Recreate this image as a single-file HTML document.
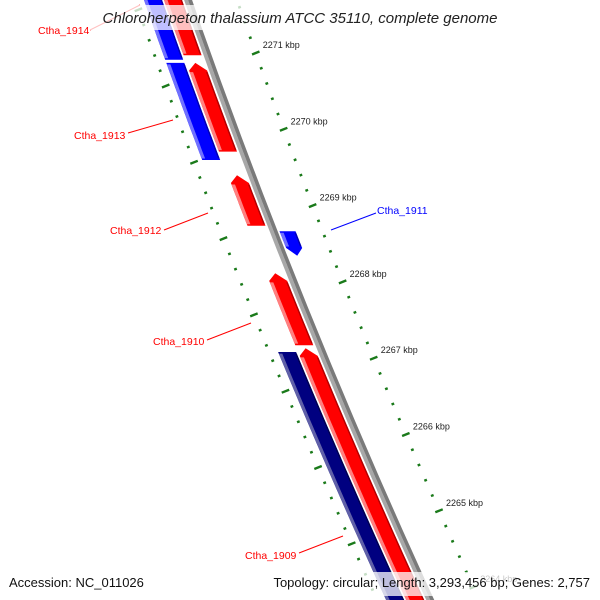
<!DOCTYPE html>
<html><head><meta charset="utf-8"><style>
html,body{margin:0;padding:0;background:#fff;width:600px;height:600px;overflow:hidden}
svg{display:block;font-family:"Liberation Sans",sans-serif;overflow:hidden}
</style></head><body>
<svg id="map" width="600" height="600" viewBox="0 0 600 600" overflow="hidden" xmlns="http://www.w3.org/2000/svg">
<g id="ticks"></g>
<g id="backbone"></g>
<g id="genes"></g>
<g id="labels"></g>
<rect x="88" y="5" width="424" height="25" fill="#fff" opacity="0.75"/>
<text x="300" y="23" text-anchor="middle" font-size="15" font-style="italic" fill="#222">Chloroherpeton thalassium ATCC 35110, complete genome</text>
<rect x="4" y="572" width="150" height="24" fill="#fff" opacity="0.75"/>
<rect x="255" y="572" width="341" height="24" fill="#fff" opacity="0.75"/>
<text x="9" y="587" font-size="13" fill="#111">Accession: NC_011026</text>
<text x="590" y="587" font-size="13" fill="#111" text-anchor="end">Topology: circular; Length: 3,293,456 bp; Genes: 2,757</text>
</svg>
<script>
const NS="http://www.w3.org/2000/svg";
const majorTicks=[2264,2265,2266,2267,2268,2269,2270,2271,2272];
const geneNames=["Ctha_1914","Ctha_1914b","Ctha_1913","Ctha_1913b","Ctha_1912","Ctha_1911","Ctha_1910","Ctha_1909","Ctha_1909b"];
const geneStart=[2271.18,2271.12,2269.92,2269.81,2268.95,2268.66,2267.39,2263.8,2263.8];
const geneEnd=[2272.2,2272.2,2270.98,2271.08,2269.51,2268.88,2268.23,2267.25,2267.30];
const geneTrack=["red","blue","red","blue","red","right","red","red","navy"];
const geneArrow=["none","none","top","none","top","bottom","top","top","none"];
const labelNames=["Ctha_1914","Ctha_1913","Ctha_1912","Ctha_1911","Ctha_1910","Ctha_1909"];

function xb(y){return 188+0.349*y+9.1e-5*y*y;}
function yOuter(k){return 53+(2271-k)*76.3;}
function yMid(k){return 69+(2271-k)*76.5;}
function P(k,r){const y=yMid(k);return [xb(y)+r,y];}
function mk(tag,attrs,parent){const e=document.createElementNS(NS,tag);for(const a in attrs)e.setAttribute(a,attrs[a]);parent.appendChild(e);return e;}

const tg=document.getElementById('ticks');
const n=[0.93,-0.37];
function tick(x,y,len,name){
  const l=mk('line',{x1:x-n[0]*len,y1:y-n[1]*len,x2:x+n[0]*len,y2:y+n[1]*len,stroke:'#1a7a1a','stroke-width':2.4},tg);
  
  
}
for(let i=0;i<majorTicks.length;i++){
  const k=majorTicks[i];
  for(let j=0;j<5;j++){
    const kk=k-j*0.2;
    const yo=yOuter(kk), yi=yo+33;
    const len=j===0?4:1.4;
    if(yo>-5&&yo<605) tick(xb(yo)+49,yo,len,j===0?'outer-major-tick':'outer-minor-tick');
    if(yi>-5&&yi<605) tick(xb(yi)-53,yi,len,j===0?'inner-major-tick':'inner-minor-tick');
  }
  const yo=yOuter(k);
  if(yo>0&&yo<600){
    const t=mk('text',{x:xb(yo)+56,y:yo-5,'font-size':9,fill:'#222'},tg);
    t.textContent=k+' kbp';
    
    
  }
}

const bg=document.getElementById('backbone');
function band(k1,k2,r1,r2,fill,parent,name,arrow){
  const pts=[];const steps=12;const hl=0.1;
  let a=k1,b=k2;
  for(let s=0;s<=steps;s++){const k=a+(b-a)*s/steps;pts.push(P(k,r1));}
  if(arrow==='top'){pts.push(P(b+hl,(r1+r2)/2));}
  for(let s=steps;s>=0;s--){const k=a+(b-a)*s/steps;pts.push(P(k,r2));}
  if(arrow==='bottom'){pts.push(P(a-hl,(r1+r2)/2));}
  const p=mk('polygon',{points:pts.map(q=>q[0].toFixed(1)+','+q[1].toFixed(1)).join(' '),fill:fill},parent);
  
  
  return p;
}
band(2263.5,2272.3,-4,0,'#a8a8a8',bg,'backbone-light');
band(2263.5,2272.3,0,4,'#7a7a7a',bg,'backbone-dark');

const gg=document.getElementById('genes');
const trackR={red:[-24,-6],blue:[-44,-26],navy:[-44,-26],right:[6,22]};
const colors={red:['#ff8080','#ff0000','#b00000'],blue:['#7070ff','#0000ff','#0000b0'],navy:['#6060a8','#000080','#000050'],right:['#7070ff','#0000ff','#0000b0']};
for(let i=0;i<geneNames.length;i++){
  const r=trackR[geneTrack[i]],c=colors[geneTrack[i]];
  const a=Math.min(geneStart[i],geneEnd[i]),b=Math.max(geneStart[i],geneEnd[i]);
  const ar=geneArrow[i];
  const g=mk('g',{},gg);
  
  
  band(a,b,r[0],r[1],c[1],g,'gene-body',ar);
  band(a+0.02,b-0.02,r[0],r[0]+3.5,c[0],g,'gene-highlight','none');
  band(a+0.02,b-0.02,r[1]-1.5,r[1],c[2],g,'gene-shadow','none');
}

const lg=document.getElementById('labels');
const labelX=[38,74,110,377,153,245];
const labelY=[34,139,234,214,345,559];
const lineFrom=[[90,30],[128,133],[164,230],[331,230],[207,340],[299,553]];
const lineTo=[[140,5],[173,120],[208,213],[376,213],[251,323],[343,536]];
const labelColor=["#ff0000","#ff0000","#ff0000","#0000ff","#ff0000","#ff0000"];
for(let i=0;i<labelNames.length;i++){
  const l=mk('line',{x1:lineFrom[i][0],y1:lineFrom[i][1],x2:lineTo[i][0],y2:lineTo[i][1],stroke:labelColor[i],'stroke-width':1},lg);
  
  
  const t=mk('text',{x:labelX[i],y:labelY[i],'font-size':10.5,fill:labelColor[i]},lg);
  t.textContent=labelNames[i];
  
  
}
</script>
</body></html>
